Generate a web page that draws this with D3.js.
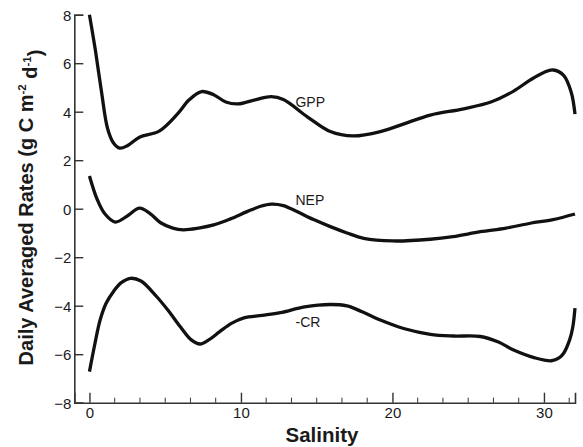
<!DOCTYPE html>
<html><head><meta charset="utf-8">
<script src="https://cdn.jsdelivr.net/npm/d3@7"></script>
<style>body{margin:0;background:#fff;} text{font-family:"Liberation Sans",Arial,Helvetica,sans-serif;fill:#1a1a1a;}</style>
</head><body>
<svg id="c" width="583" height="447"></svg>
<script>
const gppSal = [0, 0.4, 0.8, 1.2, 1.6, 2.0, 2.5, 3.3, 4.6, 5.8, 6.6, 7.4, 8.2, 9.0, 9.8, 11.0, 12.0, 12.8, 14.4, 15.9, 17.4, 19.2, 21.0, 22.5, 24.7, 26.5, 28.0, 29.1, 30.0, 30.6, 31.3, 31.8, 32.05];
const gppVal = [8.0, 6.5, 4.8, 3.3, 2.7, 2.5, 2.6, 2.95, 3.2, 3.9, 4.5, 4.83, 4.7, 4.4, 4.32, 4.5, 4.62, 4.5, 3.78, 3.18, 3.0, 3.18, 3.55, 3.86, 4.12, 4.4, 4.85, 5.31, 5.62, 5.72, 5.5, 4.8, 3.9];

const nepSal = [0, 0.5, 1.0, 1.7, 2.5, 3.3, 4.0, 4.7, 5.5, 6.2, 7.2, 8.2, 9.3, 10.4, 11.3, 12.0, 12.8, 13.7, 14.8, 15.9, 17.0, 18.1, 20.0, 22.5, 24.0, 25.8, 27.5, 29.1, 30.6, 32.05];
const nepVal = [1.35, 0.4, -0.2, -0.55, -0.3, 0.02, -0.2, -0.58, -0.8, -0.87, -0.8, -0.67, -0.42, -0.12, 0.1, 0.19, 0.13, -0.12, -0.45, -0.74, -1.0, -1.22, -1.33, -1.26, -1.15, -0.95, -0.8, -0.6, -0.45, -0.22];

const crSal = [0, 0.35, 0.7, 1.1, 1.6, 2.1, 2.7, 3.4, 4.4, 5.2, 6.0, 6.7, 7.3, 7.9, 8.6, 9.4, 10.2, 11.4, 12.6, 14.2, 15.9, 17.0, 18.0, 19.2, 20.8, 22.5, 24.0, 25.8, 27.0, 28.0, 29.4, 30.5, 31.0, 31.3, 31.7, 31.9, 32.05];
const crVal = [-6.72, -5.6, -4.6, -3.9, -3.4, -3.05, -2.87, -2.98, -3.6, -4.2, -4.87, -5.4, -5.58, -5.4, -5.07, -4.72, -4.5, -4.4, -4.29, -4.05, -3.95, -4.01, -4.25, -4.59, -4.95, -5.18, -5.25, -5.27, -5.5, -5.83, -6.15, -6.27, -6.15, -5.96, -5.4, -4.9, -4.1];

const seriesNames = ["GPP", "NEP", "-CR"];
const labelPos = [[13.6, 4.2], [13.6, 0.15], [13.6, -4.87]];
const xTicks = [0, 10, 20, 30];
const yTicks = [-8, -6, -4, -2, 0, 2, 4, 6, 8];

const svg = d3.select("#c");
const x = d3.scaleLinear().domain([-1, 32.05]).range([74.3, 575]);
const y = d3.scaleLinear().domain([-8, 8]).range([402.7, 14.7]);

// axes
const xAxis = d3.axisBottom(x).tickValues(xTicks).tickSize(-10).tickPadding(5).tickFormat(d3.format("d"));
const gx = svg.append("g").attr("transform", `translate(0,${y(-8)})`).call(xAxis);
const minor = d3.range(0, 32, 10/6).filter(v => !xTicks.some(t => Math.abs(t - v) < 1e-6));
gx.selectAll(".minor").data(minor).enter().append("line")
  .attr("x1", d => x(d)).attr("x2", d => x(d)).attr("y1", 0).attr("y2", -5)
  .attr("stroke", "#333").attr("stroke-width", 1);

const yAxis = d3.axisLeft(y).tickValues(yTicks).tickSize(-9).tickPadding(3).tickFormat(d3.format("d"));
const gy = svg.append("g").attr("transform", `translate(${x(-1)},0)`).call(yAxis);

[gx, gy].forEach(g => {
  g.select(".domain").attr("stroke", "#333").attr("stroke-width", 1.6);
  g.selectAll(".tick line").attr("stroke", "#333").attr("stroke-width", 1.4);
  g.selectAll(".tick text").style("font-family", '"Liberation Sans",Arial,sans-serif').style("font-size", "15px").attr("fill", "#222");
});
gy.selectAll(".tick text").attr("dy", "0.36em");

// curves
const line = d3.line().x(d => x(d[0])).y(d => y(d[1])).curve(d3.curveCatmullRom.alpha(0.5));
const data = [d3.zip(gppSal, gppVal), d3.zip(nepSal, nepVal), d3.zip(crSal, crVal)];
data.forEach(s => {
  svg.append("path").datum(s).attr("d", line).attr("fill", "none")
    .attr("stroke", "#111").attr("stroke-width", 3.3).attr("stroke-linejoin", "round").attr("stroke-linecap", "butt");
});

// labels
seriesNames.forEach((n, i) => {
  svg.append("text").attr("x", x(labelPos[i][0])).attr("y", y(labelPos[i][1]))
    .style("font-size", "14px").text(n);
});

// titles
svg.append("text").attr("x", 322).attr("y", 442).attr("text-anchor", "middle")
  .style("font-size", "20.5px").style("font-weight", "bold").text("Salinity");

const yt = svg.append("text").attr("transform", "translate(32.5,207.5) rotate(-90)").attr("text-anchor", "middle")
  .style("font-size", "20px").style("font-weight", "bold");
yt.append("tspan").text("Daily Averaged Rates (g C m");
yt.append("tspan").attr("dy", "-0.55em").style("font-size", "11.5px").text("-2");
yt.append("tspan").attr("dy", "0.55em").text(" d");
yt.append("tspan").attr("dy", "-0.55em").style("font-size", "11.5px").text("-1");
yt.append("tspan").attr("dy", "0.55em").text(")");
</script>
</body></html>
